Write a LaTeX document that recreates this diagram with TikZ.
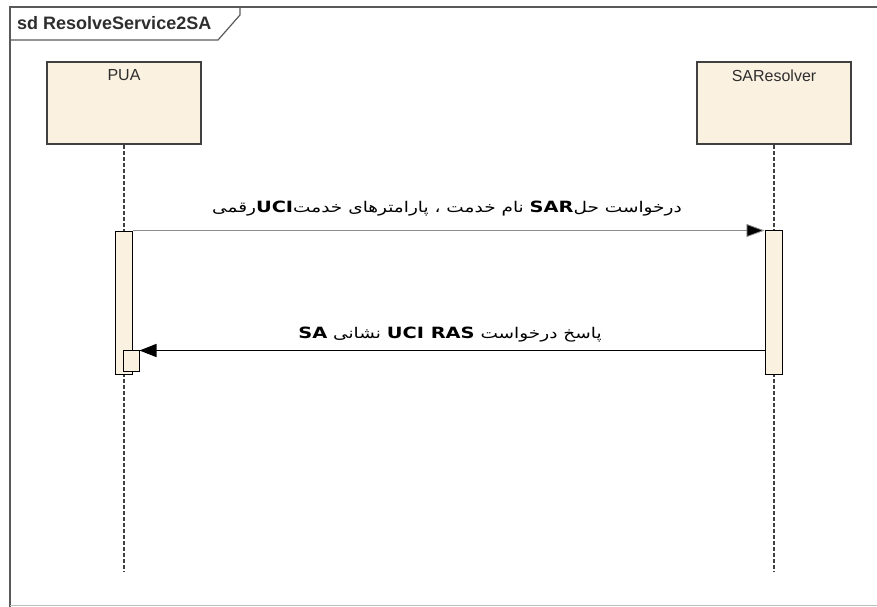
\documentclass[tikz,border=0pt]{standalone}
\usepackage{fontspec}
\usetikzlibrary{arrows.meta}
\TeXXeTstate=1
\setmainfont{Liberation Sans}
\newfontfamily\fa[Script=Arabic,FakeStretch=1.25]{DejaVu Sans}
\definecolor{headfill}{HTML}{FBF1E1}
\definecolor{framegray}{HTML}{5A5A5A}
\definecolor{boxline}{HTML}{404040}
\definecolor{inktext}{HTML}{2E2E2E}
\definecolor{msgthin}{HTML}{8C8C8C}
\newcommand{\lat}[1]{\beginL{\bfseries\fontsize{15.5}{18}\selectfont #1}\endL}
\begin{document}
\begin{tikzpicture}[x=1pt,y=-1pt,
  headbox/.style={draw=boxline, line width=1.5pt, fill=headfill,
    minimum width=154pt, minimum height=82pt, inner sep=0pt},
  headtext/.style={text=inktext, font=\fontsize{16}{18}\selectfont, inner sep=0pt},
  lifeline/.style={draw=boxline, line width=1.5pt, dash pattern=on 4pt off 2pt},
  actbar/.style={draw=black, line width=1pt, fill=headfill, minimum width=17pt, inner sep=0pt},
  msglabel/.style={text=black, font=\fa\fontsize{14.8}{18}\selectfont, inner sep=0pt},
  callmsg/.style={draw=msgthin, line width=0.8pt, -{Triangle[length=18pt,width=13pt,fill=black]}},
  replymsg/.style={draw=black, line width=1.5pt, -{Triangle[length=17pt,width=13pt]}}]
\useasboundingbox (0,0) rectangle (877,606);
\clip (0,0) rectangle (877,606);

% diagram frame and its name tab
\draw[framegray, line width=2pt] (900,7) -- (10,7) -- (10,640);
\draw[black!25, line width=1pt] (10,605) -- (900,605);
\draw[framegray, line width=1.2pt] (240,7) -- (240,15) -- (218,40) -- (10,40);
\node[anchor=west, text=inktext, inner sep=0pt,
  font=\bfseries\fontsize{18}{20}\selectfont] (title) at (17,23) {sd ResolveService2SA};

% lifeline heads
\node[headbox] (pua) at (124,103) {};
\node[headtext, anchor=north] (pualbl) at ([yshift=-8pt]pua.north) {PUA};
\node[headbox] (sar) at (774,103) {};
\node[headtext, anchor=north] (sarlbl) at ([yshift=-8pt]sar.north) {SAResolver};

% lifelines
\coordinate (puaend) at (124,572);
\coordinate (sarend) at (774,572);
\draw[lifeline] (pua.south) -- (puaend);
\draw[lifeline] (sar.south) -- (sarend);

% activation bars
\node[actbar, minimum height=143pt] (act1) at (123.5,302.5) {};
\node[actbar, minimum height=144pt] (act2) at (773.5,302) {};
\node[actbar, minimum width=16pt, minimum height=21pt] (act3) at (131,360.5) {};

% messages
\draw[callmsg] (act1.north east) -- (act1.north east -| act2.west);
\draw[replymsg] ([yshift=-1pt]act3.north east -| act2.west) -- ([yshift=-1pt]act3.north east);

% message texts
\node[msglabel, anchor=south] (m1) at (447,216)
  {\beginR درخواست حل\lat{SAR} نام خدمت ، پارامترهای خدمت\lat{UCI}رقمی\endR};
\node[msglabel, anchor=south] (m2) at (450,342)
  {\beginR پاسخ درخواست \lat{UCI RAS} نشانی \lat{SA}\endR};
\end{tikzpicture}
\end{document}
